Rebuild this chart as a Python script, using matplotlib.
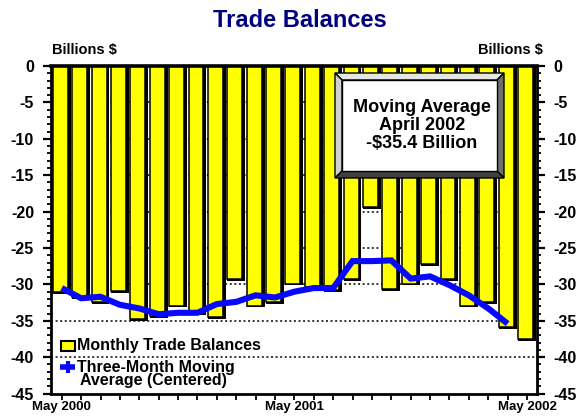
import numpy as np
import matplotlib
matplotlib.use("Agg")
import matplotlib.pyplot as plt
from matplotlib.patches import Rectangle, Polygon
from matplotlib.ticker import FixedLocator, MultipleLocator

plt.rcParams['font.family'] = ['Liberation Sans', 'DejaVu Sans']
plt.rcParams['font.weight'] = 'bold'

# ---------------- data ----------------
months = ['May 2000', 'Jun 2000', 'Jul 2000', 'Aug 2000', 'Sep 2000', 'Oct 2000',
          'Nov 2000', 'Dec 2000', 'Jan 2001', 'Feb 2001', 'Mar 2001', 'Apr 2001',
          'May 2001', 'Jun 2001', 'Jul 2001', 'Aug 2001', 'Sep 2001', 'Oct 2001',
          'Nov 2001', 'Dec 2001', 'Jan 2002', 'Feb 2002', 'Mar 2002', 'Apr 2002',
          'May 2002']
monthly_balance = [-31.0, -31.7, -32.4, -30.9, -34.8, -34.3, -32.9, -34.0, -34.5,
                   -29.3, -32.9, -32.4, -29.9, -30.4, -30.8, -29.3, -19.4, -30.7,
                   -29.9, -27.2, -29.3, -32.9, -32.4, -35.9, -37.5]
# three-month centered moving average, May 2000 .. Apr 2002
moving_avg = [-30.5, -31.9, -31.7, -32.8, -33.3, -34.1, -33.9, -33.9, -32.7,
              -32.4, -31.5, -31.8, -31.0, -30.5, -30.5, -26.8, -26.8, -26.7,
              -29.2, -28.9, -30.1, -31.5, -33.3, -35.4]
y_ticks = [0, -5, -10, -15, -20, -25, -30, -35, -40, -45]
x_tick_labels = ['May 2000', 'May 2001', 'May 2002']
title = 'Trade Balances'
axis_unit = 'Billions $'
legend_labels = ['Monthly Trade Balances', 'Three-Month Moving\nAverage (Centered)']
box_lines = ['Moving Average', 'April 2002', '-$35.4 Billion']

W, H = 579, 418
fig = plt.figure(figsize=(W / 100, H / 100), dpi=100)
fig.patch.set_facecolor('white')

L, R, T, B = 50.7, 536.7, 66.0, 393.6
ax = fig.add_axes([L / W, (H - B) / H, (R - L) / W, (B - T) / H])

x = np.arange(len(months))
x_ma = np.arange(len(moving_avg))
bal = np.array(monthly_balance)

# shadow bars (black, offset right/down) then yellow front bars
ax.bar(x - 0.46, bal - 0.25, width=0.92, align='edge', color='black',
       edgecolor='none', zorder=2)
ax.bar(x - 0.46, bal, width=0.77, align='edge', color='#FFFF00',
       edgecolor='black', linewidth=1.1, zorder=3)

ax.plot(x_ma, moving_avg, color='#0808FF', linewidth=4.4, zorder=4,
        solid_joinstyle='miter', solid_capstyle='butt')

ax.set_xlim(-0.57, 24.5)
ax.set_ylim(-45, 0)

# grid
for v in y_ticks[1:-1]:
    ax.axhline(v, color='black', linewidth=1.1, linestyle=(0, (1.3, 1.7)), zorder=1)

# axes styling
for s in ax.spines.values():
    s.set_linewidth(2.0)
    s.set_zorder(6)
ax.spines['top'].set_linewidth(2.6)

ax.yaxis.set_major_locator(FixedLocator(y_ticks))
ax.yaxis.set_minor_locator(MultipleLocator(1))
ax.set_yticklabels([str(v) for v in y_ticks])
ax.tick_params(axis='y', which='major', direction='out', length=6, width=1.6,
               left=True, right=True, labelleft=True, labelright=True,
               labelsize=11.5, pad=6)
ax.tick_params(axis='y', which='minor', direction='out', length=3, width=1.3,
               left=True, right=True)

ax.xaxis.set_major_locator(FixedLocator([0, 12, 24]))
ax.xaxis.set_minor_locator(MultipleLocator(1))
ax.set_xticklabels(x_tick_labels)
ax.tick_params(axis='x', which='both', direction='out', length=4, width=1.3,
               labelsize=9.5, pad=1.5)
for lab in ax.get_xticklabels() + ax.get_yticklabels():
    lab.set_fontweight('bold')

# ---------------- overlay (pixel coordinates) ----------------
ov = fig.add_axes([0, 0, 1, 1], zorder=10)
ov.set_xlim(0, W)
ov.set_ylim(H, 0)
ov.axis('off')

ov.text(300, 27, title, ha='center', va='baseline', fontsize=17,
        fontweight='bold', color='#000080')
ov.text(52, 54, axis_unit, ha='left', va='baseline', fontsize=10.5, fontweight='bold')
ov.text(543, 54, axis_unit, ha='right', va='baseline', fontsize=10.5, fontweight='bold')

# bevelled annotation box
ox0, oy0, ox1, oy1 = 335, 73, 504, 178
ix0, iy0, ix1, iy1 = 342, 80, 497, 171
bev = [
    ([(ox0, oy0), (ox1, oy0), (ix1, iy0), (ix0, iy0)], '#e6e6e6'),
    ([(ox0, oy0), (ix0, iy0), (ix0, iy1), (ox0, oy1)], '#d0d0d0'),
    ([(ox1, oy0), (ox1, oy1), (ix1, iy1), (ix1, iy0)], '#6e6e6e'),
    ([(ox0, oy1), (ix0, iy1), (ix1, iy1), (ox1, oy1)], '#404040'),
]
for pts, c in bev:
    ov.add_patch(Polygon(pts, closed=True, facecolor=c, edgecolor='black', linewidth=1.0))
ov.add_patch(Rectangle((ix0, iy0), ix1 - ix0, iy1 - iy0, facecolor='white',
                       edgecolor='black', linewidth=1.0))
for i, line in enumerate(box_lines):
    ov.text(422, 111.5 + 18.5 * i, line, ha='center', va='baseline', fontsize=13,
            fontweight='bold')

# legend
ov.add_patch(Rectangle((61, 341), 14, 9.5, facecolor='#FFFF00', edgecolor='black',
                       linewidth=1.5))
ov.text(77, 350, legend_labels[0], ha='left', va='baseline', fontsize=11.5,
        fontweight='bold')
ov.plot([60, 75], [367, 367], color='#0808FF', linewidth=4, solid_capstyle='butt')
ov.plot([67.5], [367], marker='|', markersize=9, markeredgewidth=3, color='#0808FF')
l1, l2 = legend_labels[1].split('\n')
ov.text(77, 372, l1, ha='left', va='baseline', fontsize=11.5, fontweight='bold')
ov.text(80, 385.5, l2, ha='left', va='baseline', fontsize=11.5, fontweight='bold')

fig.savefig('out.png', dpi=100, facecolor='white')
